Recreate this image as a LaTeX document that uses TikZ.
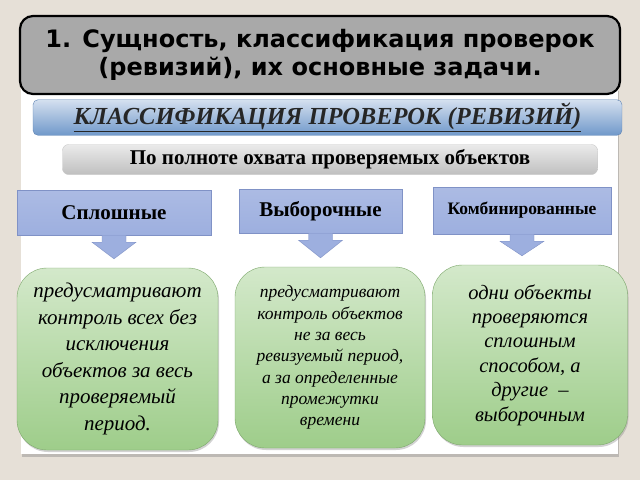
\documentclass[tikz,border=0pt]{standalone}
\usepackage{fontspec}
\setmainfont{Liberation Serif}
\newfontfamily\headfont{DejaVu Sans}
\usepackage{tikz}
\usetikzlibrary{calc,shadows}

\definecolor{slidebg}{HTML}{E6E0D7}
\definecolor{headgray}{HTML}{A9A9A9}
\definecolor{barblue}{HTML}{7098CA}
\definecolor{barblueedge}{HTML}{5F84B4}
\definecolor{kindblue}{HTML}{9DAFDF}
\definecolor{kindedge}{HTML}{8092C6}
\definecolor{notegreen}{HTML}{9ECD8A}
\definecolor{noteedge}{HTML}{7DA86C}

\tikzset{
  headbox/.style={draw=black, line width=2.2pt, fill=headgray, rounded corners=13pt,
    align=center, font=\headfont\bfseries\fontsize{24}{28}\selectfont},
  classbar/.style={draw=barblueedge, rounded corners=5pt, top color=barblue!30,
    bottom color=barblue, text=black!85, font=\bfseries\itshape\fontsize{24.5}{26}\selectfont},
  critbar/.style={draw=black!22, rounded corners=6pt, top color=black!8,
    bottom color=black!25, font=\bfseries\fontsize{21}{22}\selectfont},
  kindbox/.style={draw=kindedge, top color=kindblue!85!white, bottom color=kindblue,
    font=\bfseries\fontsize{21}{24}\selectfont},
  notebox/.style={draw=noteedge, rounded corners=30pt, top color=notegreen!45!white,
    bottom color=notegreen, drop shadow={opacity=0.35, shadow xshift=1pt, shadow yshift=-2pt},
    align=center, font=\itshape},
  blockarrow/.style={fill=kindblue, draw=kindedge, line width=0.4pt}
}

% block arrow from a kind box down to its note
\newcommand{\downblock}[2]{%
  \draw[blockarrow] let \p1=(#1.south), \p2=(#2.north) in
    (\x1-12pt,\y1) -- (\x1-12pt,\y1-7pt) -- (\x1-22pt,\y1-7pt) -- (\x1,\y2+9pt)
    -- (\x1+22pt,\y1-7pt) -- (\x1+12pt,\y1-7pt) -- (\x1+12pt,\y1) -- cycle;}

\begin{document}
\begin{tikzpicture}[x=1pt,y=-1pt]
  \fill[slidebg] (0,0) rectangle (640,480);
  \useasboundingbox (0,0) rectangle (640,480);

  % white panel
  \fill[white, drop shadow={opacity=0.4, shadow xshift=1pt, shadow yshift=-3pt}] (21,88) rectangle (618,454);

  \node[headbox, minimum width=600pt, minimum height=78pt] (title) at (320,55)
    {1. Сущность, классификация проверок\\(ревизий), их основные задачи.};

  \node[classbar, minimum width=589pt, minimum height=28pt] (class) at (327.5,117.5)
    {\underline{КЛАССИФИКАЦИЯ ПРОВЕРОК (РЕВИЗИЙ)}};

  \node[critbar, minimum width=535pt, minimum height=30pt] (crit) at (330,159.5)
    {По полноте охвата проверяемых объектов};

  % kinds
  \node[kindbox, minimum width=194pt, minimum height=45pt] (full) at (114,212.5) {Сплошные};
  \node[kindbox, minimum width=163pt, minimum height=44pt] (sample) at (320.5,211) {Выборочные};
  \node[kindbox, minimum width=178pt, minimum height=47pt, font=\bfseries\fontsize{17.5}{20}\selectfont]
    (combined) at (522,210.5) {Комбинированные};

  % notes
  \node[notebox, minimum width=201pt, minimum height=182pt,
    font=\itshape\fontsize{21}{26.6}\selectfont] (fullnote) at (117.5,359)
    {предусматривают\\контроль всех без\\исключения\\объектов за весь\\проверяемый\\период.};
  \node[notebox, minimum width=190pt, minimum height=181pt,
    font=\itshape\fontsize{17.5}{21.3}\selectfont] (samplenote) at (330,357.5)
    {предусматривают\\контроль объектов\\не за весь\\ревизуемый период,\\а за определенные\\промежутки\\времени};
  \node[notebox, minimum width=195pt, minimum height=180pt,
    font=\itshape\fontsize{20.5}{24.4}\selectfont] (combinednote) at (530,355)
    {одни объекты\\проверяются\\сплошным\\способом, а\\другие~~–\\выборочным};

  \downblock{full}{fullnote}
  \downblock{sample}{samplenote}
  \downblock{combined}{combinednote}
\end{tikzpicture}
\end{document}
